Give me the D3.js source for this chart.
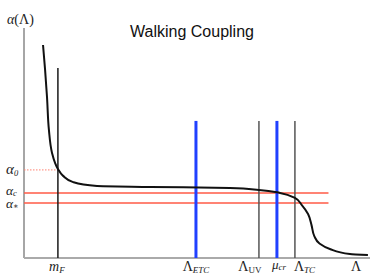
<!DOCTYPE html>
<html><head><meta charset="utf-8">
<script src="https://cdn.jsdelivr.net/npm/d3@7"></script>
<style>
body{margin:0;background:#fff}
svg{display:block}
.lab{font-family:"Liberation Serif","DejaVu Serif",serif;font-style:italic;fill:#222}
.up{font-style:normal}
</style>
</head><body>
<svg id="c" width="374" height="276"></svg>
<script>
// coupling curve: scale (arbitrary units, 0-100) vs alpha (0-1)
const curveX = [5.5,6.1,6.65,7.2,8.1,9.0,9.8,11.3,14.2,21.1,36.4,59.5,67.9,74.0,78.3,80.3,82.1,83.1,83.9,85.4,88.4,94.2,99.4];
const curveA = [0.926,0.817,0.70,0.557,0.457,0.413,0.387,0.357,0.330,0.313,0.309,0.304,0.296,0.283,0.261,0.230,0.191,0.143,0.095,0.063,0.039,0.017,0.013];
// vertical marker scales
const markerNames = ["mF","LETC","LUV","mucr","LTC"];
const markerX = [9.8,49.7,67.9,73.1,78.3];
const markerTop = [0.826,0.596,0.596,0.596,0.596];
const markerColor = ["#1a1a1a","#2040ff","#555","#2040ff","#555"];
const markerWidth = [1.5,3,1.5,3,1.5];
// horizontal coupling levels
const levelNames = ["alpha0","alphac","alphastar"];
const levelA = [0.383,0.283,0.239];

const W=374,H=276;
const x = d3.scaleLinear().domain([0,100]).range([24,370]);
const y = d3.scaleLinear().domain([0,1]).range([258,28]);
const svg = d3.select("#c");

// axes
svg.append("line").attr("x1",x(0)).attr("x2",x(0)).attr("y1",y(1)).attr("y2",y(0))
  .attr("stroke","#888").attr("stroke-width",1.5);
svg.append("line").attr("x1",x(0)).attr("x2",x(100)).attr("y1",y(0)).attr("y2",y(0))
  .attr("stroke","#aaa").attr("stroke-width",2);

// alpha0 dotted
svg.append("line").attr("x1",x(0)).attr("x2",x(markerX[0])).attr("y1",y(levelA[0])).attr("y2",y(levelA[0]))
  .attr("stroke","#ff8070").attr("stroke-width",1).attr("stroke-dasharray","1.5,1.5");
// alpha_c and alpha_* lines
[1,2].forEach(i=>{
  svg.append("line").attr("x1",x(0)).attr("x2",x(88)).attr("y1",y(levelA[i])).attr("y2",y(levelA[i]))
    .attr("stroke","#ff5a46").attr("stroke-width",1.5);
});

// markers
markerX.forEach((v,i)=>{
  svg.append("line").attr("x1",x(v)).attr("x2",x(v)).attr("y1",y(markerTop[i])).attr("y2",y(0))
    .attr("stroke",markerColor[i]).attr("stroke-width",markerWidth[i]);
});

// curve
const pts = curveX.map((v,i)=>[v,curveA[i]]);
svg.append("path").datum(pts)
  .attr("d",d3.line().x(d=>x(d[0])).y(d=>y(d[1])).curve(d3.curveMonotoneY))
  .attr("fill","none").attr("stroke","#111").attr("stroke-width",2);

// title
svg.append("text").attr("x",192).attr("y",37).attr("text-anchor","middle")
  .attr("font-family","Liberation Sans, Arial, sans-serif").attr("font-size",16).attr("fill","#111")
  .text("Walking Coupling");

// y label
const yl = svg.append("text").attr("class","lab").attr("x",7).attr("y",24).attr("font-size",14);
yl.append("tspan").text("α");
yl.append("tspan").attr("class","up").text("(Λ)");

// level labels
function sub(base, s, px, py, dy, fs){
  const e = svg.append("text").attr("class","lab").attr("x",px).attr("y",py).attr("font-size",fs);
  e.append("tspan").text(base);
  e.append("tspan").attr("font-size",8.5).attr("dy",dy).text(s);
  return e;
}
sub("α","0",6,y(levelA[0])+4,2,15);
sub("α","c",6,y(levelA[1])+2,1.5,13.5);
sub("α","∗",6,y(levelA[2])+5,1,13.5);

// x labels
const lx = y(0)+13;
function xlab(base, s, px, upright, anchor){
  const e = svg.append("text").attr("class","lab").attr("x",px).attr("y",lx).attr("font-size",14)
    .attr("text-anchor",anchor||"middle");
  const b = e.append("tspan").text(base);
  if(upright) b.attr("class","up");
  if(s){ e.append("tspan").attr("font-size",9).attr("dy",2).text(s); }
  return e;
}
xlab("m","F",x(markerX[0])-1,false);
xlab("Λ","ETC",x(markerX[1]),true);
{
  const e = svg.append("text").attr("x",x(markerX[2])-9).attr("y",lx).attr("text-anchor","middle")
    .attr("font-family","Liberation Serif, DejaVu Serif, serif").attr("font-size",14).attr("fill","#222");
  e.append("tspan").text("Λ");
  e.append("tspan").attr("font-size",9).attr("dy",2).text("UV");
}
{
  const e = svg.append("text").attr("class","lab").attr("x",x(markerX[3])+2).attr("y",lx-2).attr("text-anchor","middle").attr("font-size",13);
  e.append("tspan").text("μ");
  e.append("tspan").attr("font-size",9).attr("dy",1).text("cr");
}
xlab("Λ","TC",x(markerX[4])-1,true,"start");
xlab("Λ",null,x(96),true);
</script>
</body></html>
